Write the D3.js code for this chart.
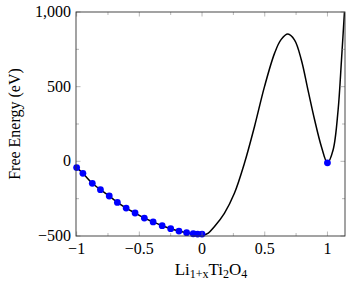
<!DOCTYPE html>
<html>
<head>
<meta charset="utf-8">
<script src="https://cdn.jsdelivr.net/npm/d3@7"></script>
<style>
body { margin: 0; background: #fff; }
text { font-family: "Liberation Serif", "DejaVu Serif", serif; }
</style>
</head>
<body>
<script>
// black curve
var curveX = [-1, -0.95, -0.875, -0.81, -0.74, -0.675, -0.605, -0.534, -0.46, -0.39, -0.318, -0.25, -0.184, -0.123, -0.07, -0.035, 0.005,
    0.05, 0.098, 0.178, 0.258, 0.338, 0.418, 0.498, 0.578, 0.63, 0.685, 0.738, 0.792, 0.845, 0.898, 0.952, 1.0, 1.045, 1.085, 1.112, 1.14]
var curveY = [-42, -80, -147, -190, -232, -275, -313, -346, -380, -406, -431, -451, -467, -478, -486, -489, -494,
    -480, -438, -348, -214, -13, 232, 500, 723, 815, 852, 812, 679, 477, 277, 98, -10, 76, 344, 679, 1060]

// blue markers
var dotX = [-1, -0.95, -0.875, -0.81, -0.74, -0.675, -0.605, -0.534, -0.46, -0.39, -0.318, -0.25, -0.184, -0.123, -0.07, -0.035, 0, 1]
var dotY = [-42, -80, -147, -190, -232, -275, -313, -346, -380, -406, -431, -451, -467, -478, -485, -487, -487, -10]

var xTicks = [-1, -0.5, 0, 0.5, 1]
var xTickLabels = ["\u22121", "\u22120.5", "0", "0.5", "1"]
var xMinor = [-0.75, -0.25, 0.25, 0.75]
var yTicks = [-500, 0, 500, 1000]
var yTickLabels = ["\u2212500", "0", "500", "1,000"]
var yMinor = [-250, 250, 750]

var W = 347, H = 286
var pL = 76, pR = 345, pT = 12, pB = 236

var svg = d3.select("body").append("svg")
    .attr("width", W)
    .attr("height", H)

var x = d3.scaleLinear().domain([-1.005, 1.14]).range([pL, pR])
var y = d3.scaleLinear().domain([-500, 1000]).range([pB, pT])

var plot = svg.append("g")

plot.append("clipPath").attr("id", "clip")
    .append("rect")
    .attr("x", pL).attr("y", pT)
    .attr("width", pR - pL).attr("height", pB - pT)

var pts = curveX.map((d, i) => [d, curveY[i]])
var line = d3.line()
    .x(d => x(d[0]))
    .y(d => y(d[1]))
    .curve(d3.curveCatmullRom.alpha(0.5))

plot.append("path")
    .datum(pts)
    .attr("clip-path", "url(#clip)")
    .attr("fill", "none")
    .attr("stroke", "black")
    .attr("stroke-width", 1.5)
    .attr("d", line)

plot.selectAll("circle")
    .data(dotX.map((d, i) => [d, dotY[i]]))
    .enter()
    .append("circle")
    .attr("cx", d => x(d[0]))
    .attr("cy", d => y(d[1]))
    .attr("r", 3.4)
    .attr("fill", "#0000ff")

// ticks, pgfplots style: inside, on all four sides
var tickCol = "#888"
function xTick(v, len) {
    svg.append("line").attr("x1", x(v)).attr("x2", x(v)).attr("y1", pB).attr("y2", pB - len)
        .attr("stroke", tickCol).attr("stroke-width", 0.6)
    svg.append("line").attr("x1", x(v)).attr("x2", x(v)).attr("y1", pT).attr("y2", pT + len)
        .attr("stroke", tickCol).attr("stroke-width", 0.6)
}
function yTick(v, len) {
    svg.append("line").attr("y1", y(v)).attr("y2", y(v)).attr("x1", pL).attr("x2", pL + len)
        .attr("stroke", tickCol).attr("stroke-width", 0.6)
    svg.append("line").attr("y1", y(v)).attr("y2", y(v)).attr("x1", pR).attr("x2", pR - len)
        .attr("stroke", tickCol).attr("stroke-width", 0.6)
}
xTicks.forEach(v => xTick(v, 4.5))
xMinor.forEach(v => xTick(v, 3))
yTicks.forEach(v => yTick(v, 4.5))
yMinor.forEach(v => yTick(v, 3))

svg.append("rect")
    .attr("x", pL).attr("y", pT)
    .attr("width", pR - pL).attr("height", pB - pT)
    .attr("fill", "none")
    .attr("stroke", "#333")
    .attr("stroke-width", 0.9)

svg.selectAll(".xl")
    .data(xTicks)
    .enter()
    .append("text")
    .attr("x", d => x(d))
    .attr("y", pB + 18)
    .attr("text-anchor", "middle")
    .attr("font-size", 16)
    .text((d, i) => xTickLabels[i])

svg.selectAll(".yl")
    .data(yTicks)
    .enter()
    .append("text")
    .attr("x", pL - 5)
    .attr("y", d => y(d) + 5)
    .attr("text-anchor", "end")
    .attr("font-size", 16)
    .text((d, i) => yTickLabels[i])

// axis titles
var xt = svg.append("text")
    .attr("x", 211)
    .attr("y", 275)
    .attr("text-anchor", "middle")
    .attr("font-size", 17)
xt.append("tspan").text("Li")
xt.append("tspan").attr("font-size", 12).attr("dy", 3).text("1+x")
xt.append("tspan").attr("dy", -3).text("Ti")
xt.append("tspan").attr("font-size", 12).attr("dy", 3).text("2")
xt.append("tspan").attr("dy", -3).text("O")
xt.append("tspan").attr("font-size", 12).attr("dy", 3).text("4")

svg.append("text")
    .attr("transform", "translate(20," + (pT + pB) / 2 + ") rotate(-90)")
    .attr("text-anchor", "middle")
    .attr("font-size", 16)
    .text("Free Energy (eV)")
</script>
</body>
</html>
